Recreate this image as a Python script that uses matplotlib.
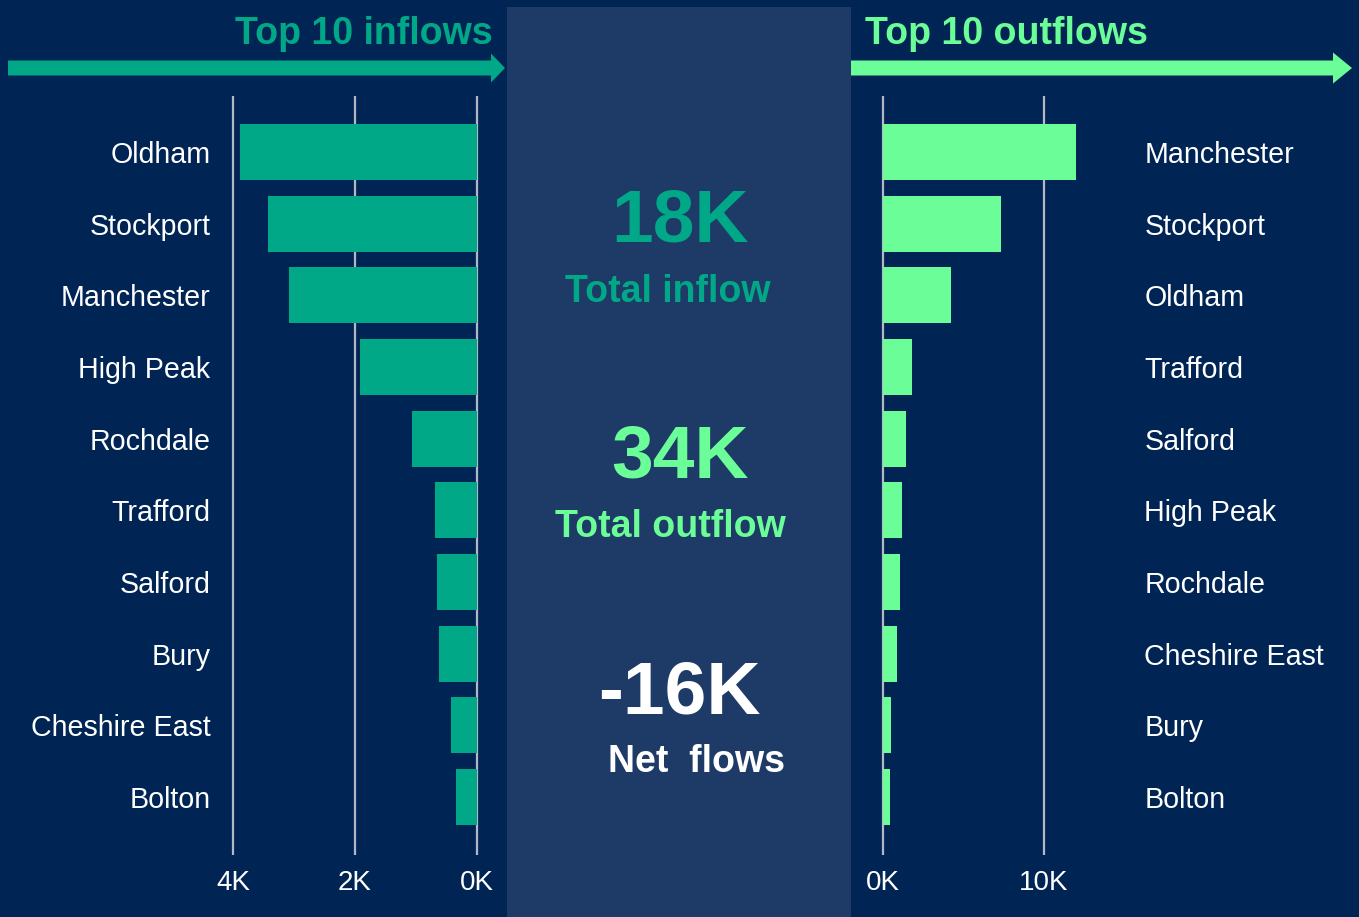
import matplotlib
matplotlib.use('Agg')
import matplotlib.pyplot as plt
from matplotlib.patches import Rectangle, FancyArrow

plt.rcParams['font.family'] = ['Liberation Sans', 'DejaVu Sans']

# ── data ──
in_places = ['Oldham', 'Stockport', 'Manchester', 'High Peak', 'Rochdale',
             'Trafford', 'Salford', 'Bury', 'Cheshire East', 'Bolton']
in_vals = [3880, 3430, 3090, 1920, 1070, 690, 650, 620, 430, 340]

out_places = ['Manchester', 'Stockport', 'Oldham', 'Trafford', 'Salford',
              'High Peak', 'Rochdale', 'Cheshire East', 'Bury', 'Bolton']
out_vals = [12000, 7310, 4250, 1780, 1410, 1200, 1030, 900, 480, 420]

in_ticks = [4000, 2000, 0]
in_ticklabels = ['4K', '2K', '0K']
out_ticks = [0, 10000]
out_ticklabels = ['0K', '10K']

total_in = '18K'
total_out = '34K'
net_flow = '-16K'

# ── styles ──
BG = '#002554'
PANEL = '#1E3A66'
TEAL = '#00A887'
MINT = '#6BFD97'
GRID = '#B4B8C6'
W, H = 1359, 917

fig = plt.figure(figsize=(W / 100, H / 100), dpi=100, facecolor=BG)


def px_axes(x0, x1, y0, y1, **kw):
    # axes placed in pixel coords (y measured from the top)
    return fig.add_axes([x0 / W, 1 - y1 / H, (x1 - x0) / W, (y1 - y0) / H], **kw)


# background layer in pixel units: centre panel, arrows, headings
bg = px_axes(0, W, 0, H, zorder=0)
bg.set_xlim(0, W)
bg.set_ylim(H, 0)
bg.axis('off')
bg.add_patch(Rectangle((507, 7), 344, H, color=PANEL, lw=0))
bg.add_patch(FancyArrow(8, 68, 483, 0, width=15, head_width=29, head_length=14,
                        length_includes_head=False, color=TEAL, lw=0))
bg.add_patch(FancyArrow(851, 68, 482, 0, width=15, head_width=31, head_length=19,
                        length_includes_head=False, color=MINT, lw=0))
bg.text(493, 44, 'Top 10 inflows', color=TEAL, fontsize=27, fontweight='bold',
        ha='right', va='baseline')
bg.text(865, 44, 'Top 10 outflows', color=MINT, fontsize=27, fontweight='bold',
        ha='left', va='baseline')

# KPI cards in the centre panel
bg.text(680, 242, total_in, color=TEAL, fontsize=54, fontweight='bold',
        ha='center', va='baseline')
bg.text(668, 302, 'Total inflow', color=TEAL, fontsize=27, fontweight='bold',
        ha='center', va='baseline')
bg.text(680, 478, total_out, color=MINT, fontsize=54, fontweight='bold',
        ha='center', va='baseline')
bg.text(670, 537, 'Total outflow', color=MINT, fontsize=27, fontweight='bold',
        ha='center', va='baseline')
bg.text(679, 713, net_flow, color='white', fontsize=54, fontweight='bold',
        ha='center', va='baseline')
bg.text(696, 772, 'Net  flows', color='white', fontsize=27, fontweight='bold',
        ha='center', va='baseline')

n = len(in_places)
ylim = (n - 1 + 0.81, -0.78)


def style_bar_axes(ax):
    ax.set_facecolor('none')
    for s in ax.spines.values():
        s.set_visible(False)
    ax.set_ylim(*ylim)
    ax.tick_params(length=0, colors='white', labelsize=20)
    ax.tick_params(axis='x', pad=11)
    ax.tick_params(axis='y', labelsize=20.6)


# left: inflows, growing leftwards from 0K at x=477 (60.7 px per 1K)
k_in = 60.7 / 1000
axl = px_axes(223, 487, 96, 855, zorder=2)
style_bar_axes(axl)
axl.set_xlim(4000 + 10 / k_in, -10 / k_in)
for t in in_ticks:
    axl.axvline(t, color=GRID, lw=1.6, zorder=1)
axl.barh(range(n), in_vals, height=0.78, color=TEAL, zorder=2)
axl.set_xticks(in_ticks, in_ticklabels)
axl.set_yticks(range(n), in_places)
axl.tick_params(axis='y', pad=9)

# right: outflows from 0K at x=883 (16.1 px per 1K)
k_out = 16.1 / 1000
axr = px_axes(873, 1100, 96, 855, zorder=2)
style_bar_axes(axr)
axr.set_xlim(-10 / k_out, (1100 - 883) / k_out)
for t in out_ticks:
    axr.axvline(t, color=GRID, lw=1.6, zorder=1)
axr.barh(range(n), out_vals, height=0.78, color=MINT, zorder=2)
axr.set_xticks(out_ticks, out_ticklabels)
axr.set_yticks(range(n), out_places)
axr.yaxis.tick_right()
axr.tick_params(axis='y', pad=32)

fig.savefig('out.png', dpi=100, facecolor=BG)
